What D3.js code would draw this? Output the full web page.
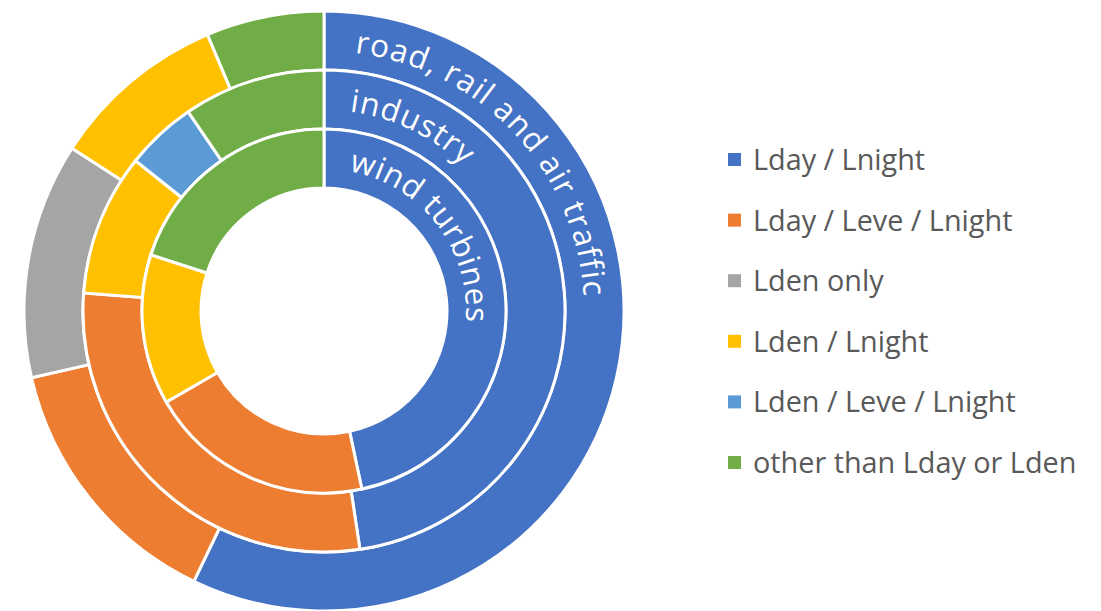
<!DOCTYPE html>
<html>
<head>
<meta charset="utf-8">
<script src="https://cdn.jsdelivr.net/npm/d3@7"></script>
<style>
  html, body { margin: 0; padding: 0; background: #fff; }
  svg { display: block; }
</style>
</head>
<body>
<script>
// Categories (legend order) and one series per ring, outer to inner
var categories = ["Lday / Lnight", "Lday / Leve / Lnight", "Lden only",
	"Lden / Lnight", "Lden / Leve / Lnight", "other than Lday or Lden"];
var ringNames = ["road, rail and air traffic", "industry", "wind turbines"];
var roadRailAir = [36, 9, 8, 6, 0, 4];
var industry = [10, 6, 0, 2, 1, 2];
var windTurbines = [7, 3, 0, 2, 0, 3];
var colors = ["#4472C4", "#ED7D31", "#A5A5A5", "#FFC000", "#5B9BD5", "#70AD47"];

var width = 1101;
var height = 611;
var cx = 324, cy = 311;
var outerR = 300, holeR = 123;
var ringW = (outerR - holeR) / 3;

// label layout: start / end angle (degrees) of each ring title
var labelSpan = [[6.8, 86.9], [7.3, 44], [10, 94.5]];
var labelFont = "'Open Sans', sans-serif";
var labelSize = 31.5;

var svg = d3.select("body")
	.append("svg")
		.attr("width", width)
		.attr("height", height)
		.attr("viewBox", [0, 0, width, height]);

var chart = svg.append("g")
	.attr("transform", "translate(" + cx + "," + cy + ")");

var pie = d3.pie()
	.sort(null)
	.startAngle(0)
	.endAngle(2 * Math.PI);

var color = d3.scaleOrdinal()
	.domain(categories)
	.range(colors);

var series = [roadRailAir, industry, windTurbines];

series.forEach(function (values, i) {
	var rOut = outerR - i * ringW;
	var rIn = rOut - ringW;
	var arc = d3.arc().innerRadius(rIn).outerRadius(rOut);

	chart.append("g")
		.attr("class", "ring")
		.selectAll("path")
		.data(pie(values).filter(function (d) { return d.value > 0; }))
		.enter().append("path")
			.attr("d", arc)
			.attr("fill", function (d) { return color(categories[d.index]); })
			.attr("stroke", "#fff")
			.attr("stroke-width", 3);
});

// Ring titles, written clockwise along each ring
var defs = svg.append("defs");

ringNames.forEach(function (name, i) {
	var rIn = outerR - (i + 1) * ringW;
	var r = rIn + 19;
	var id = "ringpath" + i;
	defs.append("path")
		.attr("id", id)
		.attr("d", "M0," + (-r) + " A" + r + "," + r + " 0 1 1 0," + r +
			" A" + r + "," + r + " 0 1 1 0," + (-r));

	var a0 = labelSpan[i][0] * Math.PI / 180;
	var a1 = labelSpan[i][1] * Math.PI / 180;
	var target = (a1 - a0) * r;

	// measure the natural width so the letter spacing can fill the span
	var probe = chart.append("text")
		.attr("font-family", labelFont)
		.attr("font-size", labelSize)
		.text(name);
	var natural = probe.node().getComputedTextLength();
	probe.remove();
	var spacing = (target - natural) / name.length;

	chart.append("text")
		.attr("font-family", labelFont)
		.attr("font-size", labelSize)
		.attr("fill", "#fff")
		.style("letter-spacing", spacing + "px")
		.append("textPath")
			.attr("href", "#" + id)
			.attr("startOffset", a0 * r)
			.text(name);
});

// Legend
var legend = svg.append("g")
	.attr("transform", "translate(728,160)");

var rowY = d3.scalePoint()
	.domain(categories)
	.range([0, 303]);

var item = legend.selectAll("g")
	.data(categories)
	.enter().append("g")
		.attr("transform", function (d) { return "translate(0," + rowY(d) + ")"; });

item.append("rect")
	.attr("x", 0)
	.attr("y", -7)
	.attr("width", 13)
	.attr("height", 13)
	.attr("fill", function (d) { return color(d); });

item.append("text")
	.attr("x", 25)
	.attr("y", 0)
	.attr("dy", "0.35em")
	.attr("font-family", labelFont)
	.attr("font-size", 28.8)
	.attr("fill", "#595959")
	.text(function (d) { return d; });
</script>
</body>
</html>
